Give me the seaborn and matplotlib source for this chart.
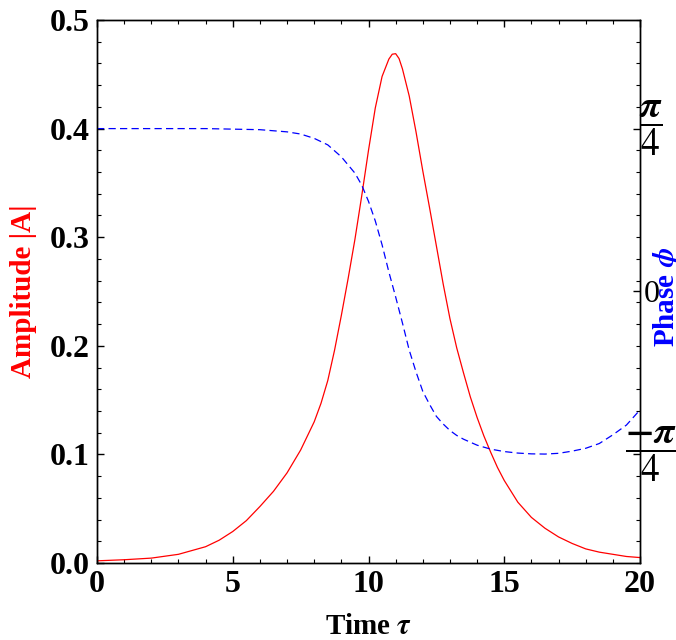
import numpy as np
import matplotlib
matplotlib.use("Agg")
import matplotlib.pyplot as plt
import matplotlib.transforms as mtransforms
import seaborn as sns
from matplotlib.ticker import MultipleLocator, FixedLocator, FixedFormatter, FormatStrFormatter

# ---- data ----
tau_amp = [0, 1, 2, 3, 4, 4.5, 5, 5.5, 6, 6.5, 7, 7.5, 8, 8.25, 8.5, 8.75, 9, 9.25,
           9.5, 9.75, 10, 10.25, 10.5, 10.75, 10.875, 11, 11.125, 11.25, 11.5, 11.75,
           12, 12.25, 12.5, 12.75, 13, 13.25, 13.5, 13.75, 14, 14.25, 14.5, 14.75,
           15, 15.5, 16, 16.5, 17, 17.5, 18, 18.5, 19, 19.5, 20]
amplitude = [0.002, 0.003, 0.0045, 0.008, 0.015, 0.021, 0.029, 0.039, 0.052, 0.066,
             0.083, 0.104, 0.130, 0.147, 0.168, 0.196, 0.228, 0.262, 0.298, 0.338,
             0.380, 0.419, 0.448, 0.464, 0.4685, 0.469, 0.4645, 0.455, 0.430, 0.397,
             0.361, 0.327, 0.292, 0.257, 0.225, 0.198, 0.175, 0.153, 0.134, 0.117,
             0.102, 0.088, 0.076, 0.056, 0.042, 0.032, 0.024, 0.018, 0.013, 0.010,
             0.008, 0.006, 0.005]

tau_phase = [0, 1, 2, 3, 4, 5, 6, 7, 7.5, 8, 8.5, 9, 9.5, 9.75, 10, 10.25, 10.5,
             10.75, 11, 11.25, 11.5, 11.75, 12, 12.25, 12.5, 12.75, 13, 13.25, 13.5,
             14, 14.5, 15, 15.5, 16, 16.5, 17, 17.5, 18, 18.5, 19, 19.5, 20]
phase = [0.7854, 0.7854, 0.7854, 0.7854, 0.7854, 0.7828, 0.7802, 0.7697, 0.7592,
         0.7383, 0.7069, 0.6493, 0.5707, 0.5131, 0.4346, 0.3403, 0.2251, 0.0942,
         -0.0262, -0.1518, -0.2827, -0.3875, -0.4817, -0.5445, -0.6021, -0.6388,
         -0.6702, -0.6940, -0.7121, -0.7409, -0.7600, -0.7717, -0.7790, -0.7828,
         -0.7838, -0.7802, -0.7697, -0.7560, -0.7330, -0.6911, -0.6440, -0.5707]

x_ticks = [0, 5, 10, 15, 20]
amp_ticks = [0.0, 0.1, 0.2, 0.3, 0.4, 0.5]
phase_ticks = [-np.pi / 4, 0, np.pi / 4]
phase_labels = [r'$\dfrac{\mathbf{-}\boldsymbol{\pi}}{4}$', '0', r'$\dfrac{\boldsymbol{\pi}}{4}$']

# ---- style ----
sns.set_style("ticks")
plt.rcParams['font.family'] = ['Liberation Serif', 'DejaVu Serif']
plt.rcParams['mathtext.fontset'] = 'stix'
plt.rcParams['axes.linewidth'] = 1.0
for k in ['text.color', 'axes.labelcolor', 'xtick.color', 'ytick.color', 'axes.edgecolor']:
    plt.rcParams[k] = 'black'

fig = plt.figure(figsize=(6.76, 6.4), dpi=100)
ax = fig.add_axes([97 / 676, 1 - 563 / 640, 543 / 676, 543 / 640])

sns.lineplot(x=tau_amp, y=amplitude, ax=ax, color='#ff0000', linewidth=0.9)
ax.set_xlim(0, 20)
ax.set_ylim(0, 0.5)
ax.xaxis.set_major_locator(FixedLocator(x_ticks))
ax.xaxis.set_minor_locator(MultipleLocator(1))
ax.yaxis.set_major_locator(FixedLocator(amp_ticks))
ax.yaxis.set_minor_locator(MultipleLocator(0.02))
ax.xaxis.set_major_formatter(FormatStrFormatter('%d'))
ax.yaxis.set_major_formatter(FormatStrFormatter('%.1f'))
ax.tick_params(which='both', direction='in', top=True, right=False, colors='black')
ax.tick_params(which='major', length=5, width=1, labelsize=23, pad=5)
ax.tick_params(which='minor', length=3, width=0.8)
for lbl in ax.get_xticklabels() + ax.get_yticklabels():
    lbl.set_fontweight('bold')

ax.set_xlabel(r'Time $\boldsymbol{\tau}$', fontsize=21, fontweight='bold', color='black')
ax.xaxis.set_label_coords(0.5, -0.093)
ax.set_ylabel('Amplitude |A|', fontsize=21, fontweight='bold', color='#ff0000')
ax.yaxis.set_label_coords(-0.110, 0.5)

ax2 = ax.twinx()
sns.lineplot(x=tau_phase, y=phase, ax=ax2, color='#0000ff', linewidth=0.9,
             linestyle=(0, (5.8, 3.4)))
lim = 5 * np.pi / 12
ax2.set_ylim(-lim, lim)
ax2.yaxis.set_major_locator(FixedLocator(phase_ticks))
ax2.yaxis.set_major_formatter(FixedFormatter(['', phase_labels[1], '']))
ax2.yaxis.set_minor_locator(FixedLocator(list(np.linspace(-lim, lim, 26))))
ax2.tick_params(which='both', direction='in', colors='black')
ax2.tick_params(which='major', length=5, width=1, labelsize=23, pad=3)
ax2.tick_params(which='minor', length=3, width=0.8)
for lbl in ax2.get_yticklabels():
    lbl.set_fontweight('normal')

# fraction labels for ±pi/4, centred just right of the right spine
trans = mtransforms.blended_transform_factory(ax2.transAxes, ax2.transData)
for val, txt in [(phase_ticks[0], phase_labels[0]), (phase_ticks[2], phase_labels[2])]:
    ax2.text(1 + 11 / 543, val, txt, transform=trans, ha='center', va='center',
             fontsize=27, color='black', clip_on=False)

ax2.set_ylabel(r'Phase $\boldsymbol{\phi}$', fontsize=21, fontweight='bold', color='#0000ff')
ax2.yaxis.set_label_coords(1.020, 0.49)
for sp in ax2.spines.values():
    sp.set_color('black')

fig.savefig('out.png', dpi=100)
